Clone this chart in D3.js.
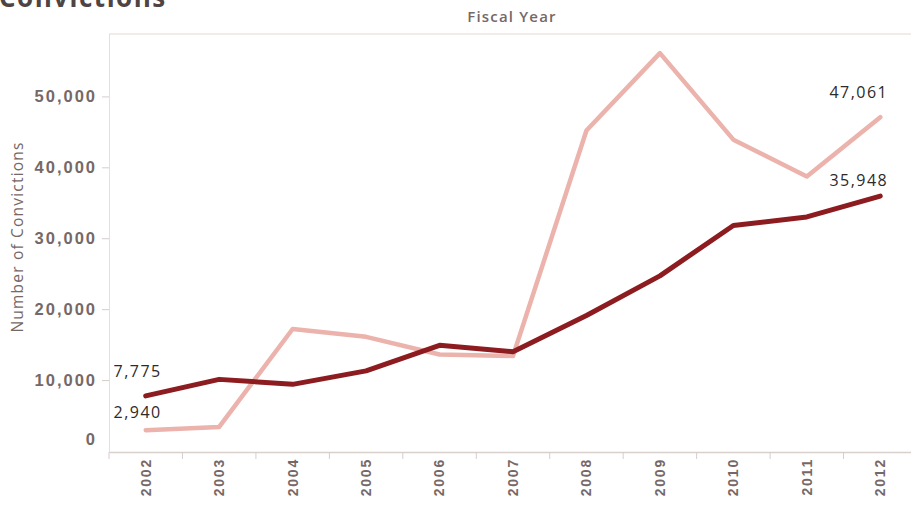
<!DOCTYPE html>
<html><head><meta charset="utf-8">
<script src="https://cdn.jsdelivr.net/npm/d3@7"></script>
<style>
body{margin:0;background:#fff;}
svg{display:block;font-family:"Open Sans",sans-serif;}
</style></head>
<body><svg id="c" width="911" height="508"></svg>
<script>
const years = ["2002","2003","2004","2005","2006","2007","2008","2009","2010","2011","2012"];
const darkSeries = [7775, 10100, 9400, 11300, 14900, 14000, 19100, 24700, 31800, 33000, 35948];
const lightSeries = [2940, 3400, 17200, 16100, 13600, 13400, 45200, 56100, 43900, 38700, 47061];
const yTicks = [0, 10000, 20000, 30000, 40000, 50000];
const titleText = "Convictions";
const xTitle = "Fiscal Year";
const yTitle = "Number of Convictions";

const svg = d3.select("#c");
const pLeft = 109, pRight = 917, pTop = 34, pBottom = 452;

const x = d3.scaleBand().domain(years).range([pLeft, pRight]);
const y = d3.scaleLinear().domain([0, 58800]).range([451, pTop]);

const labelColor = "#766866";

// title (cut off at top, as in the source)
svg.append("text").attr("x", -1).attr("y", 7)
  .attr("font-size", 26).attr("font-weight", 700).attr("fill", "#4f4443")
  .attr("letter-spacing", 1.5)
  .text(titleText);

// plot frame
svg.append("line").attr("x1", pLeft).attr("x2", 911).attr("y1", pTop).attr("y2", pTop)
  .attr("stroke", "#ece6e2").attr("stroke-width", 1.5);
svg.append("line").attr("x1", pLeft+0.5).attr("x2", pLeft+0.5).attr("y1", pTop).attr("y2", pBottom)
  .attr("stroke", "#e6dfdb").attr("stroke-width", 1);

// x axis
const xAxis = svg.append("g").attr("transform", `translate(0,${pBottom})`)
  .call(d3.axisBottom(x).tickSize(0).tickPadding(0));
xAxis.select(".domain").attr("stroke", "#d9d0cc").attr("stroke-width", 1.5);
xAxis.selectAll(".tick text")
  .attr("transform", "rotate(-90)")
  .attr("x", -6).attr("y", 0).attr("dy", "0.35em")
  .attr("text-anchor", "end")
  .attr("font-size", 14).attr("font-weight", 600).attr("letter-spacing", 1.8)
  .attr("fill", labelColor);
// boundary ticks
xAxis.selectAll(".bt").data(years.concat(["end"])).enter().append("line")
  .attr("class", "bt")
  .attr("x1", (d,i) => pLeft + i * x.step()).attr("x2", (d,i) => pLeft + i * x.step())
  .attr("y1", 0).attr("y2", 7).attr("stroke", "#d6cdca").attr("stroke-width", 1);

// y axis
const yAxis = svg.append("g").attr("transform", `translate(${pLeft},0)`)
  .call(d3.axisLeft(y).tickValues(yTicks).tickFormat(d3.format(",")).tickSize(7).tickPadding(5));
yAxis.select(".domain").remove();
yAxis.selectAll(".tick line").attr("stroke", "#d6cdca");
yAxis.selectAll(".tick text")
  .attr("font-size", 16.5).attr("letter-spacing", 2).attr("font-weight", 600)
  .attr("fill", labelColor);
yAxis.selectAll(".tick").filter(d => d === 0).select("text").attr("dy", "-0.4em");
yAxis.selectAll(".tick").filter(d => d === 0).select("line").remove();

// axis titles
svg.append("text").attr("x", 512).attr("y", 22).attr("text-anchor", "middle")
  .attr("font-size", 15).attr("font-weight", 600).attr("fill", labelColor)
  .attr("letter-spacing", 1.2)
  .text(xTitle);
svg.append("text").attr("transform", "translate(23,237) rotate(-90)").attr("text-anchor", "middle")
  .attr("font-size", 15.5).attr("fill", labelColor).attr("letter-spacing", 1.2)
  .text(yTitle);

// lines
const line = d3.line().x((d,i) => x(years[i]) + x.bandwidth()/2).y(d => y(d));
svg.append("path").datum(lightSeries).attr("d", line)
  .attr("fill", "none").attr("stroke", "#ebb3ac").attr("stroke-width", 4.5)
  .attr("stroke-linejoin", "round").attr("stroke-linecap", "round");
svg.append("path").datum(darkSeries).attr("d", line)
  .attr("fill", "none").attr("stroke", "#8c1c1f").attr("stroke-width", 5)
  .attr("stroke-linejoin", "round").attr("stroke-linecap", "round");

// value labels
const fmt = d3.format(",");
const last = years.length - 1;
const cx = i => x(years[i]) + x.bandwidth()/2;
const labels = [
  {v: darkSeries[0], x: cx(0) + 16, y: y(darkSeries[0]) - 19},
  {v: lightSeries[0], x: cx(0) + 16, y: y(lightSeries[0]) - 12},
  {v: lightSeries[last], x: cx(last) + 8, y: y(lightSeries[last]) - 19},
  {v: darkSeries[last], x: cx(last) + 8, y: y(darkSeries[last]) - 10}
];
svg.selectAll(".vl").data(labels).enter().append("text").attr("class", "vl")
  .attr("x", d => d.x).attr("y", d => d.y)
  .attr("text-anchor", "end")
  .attr("font-size", 16).attr("letter-spacing", 1.5).attr("fill", "#2e2a2a")
  .text(d => fmt(d.v));
</script></body></html>
